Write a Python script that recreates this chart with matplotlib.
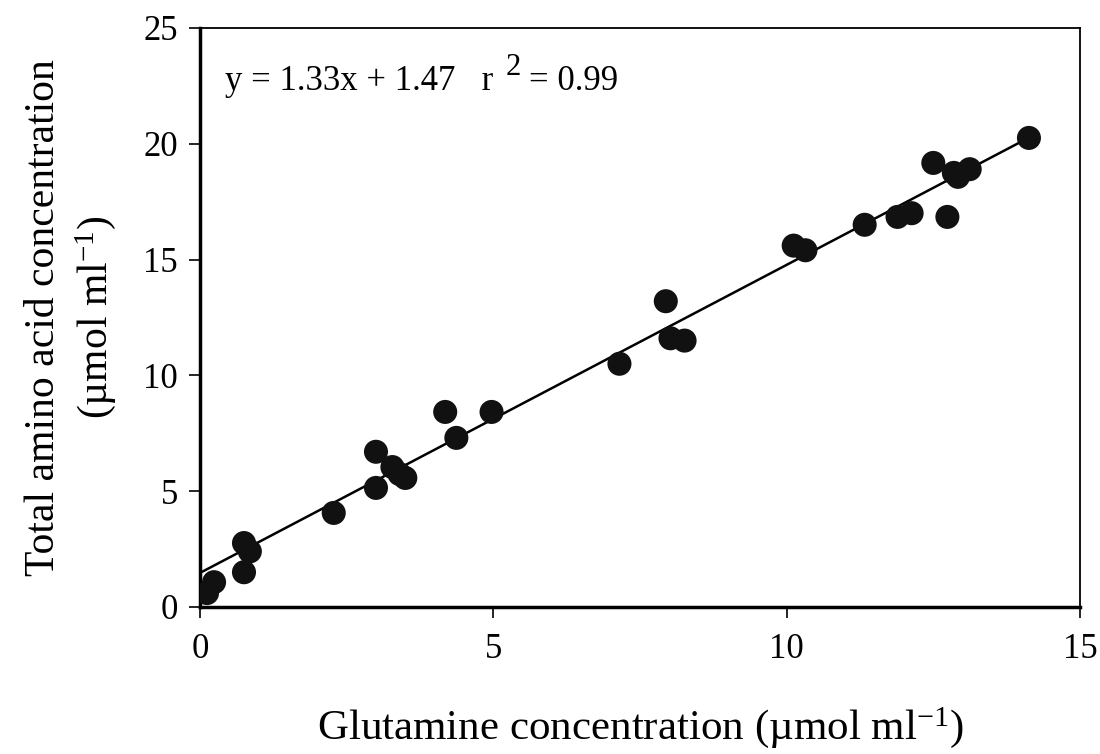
import numpy as np
import matplotlib.pyplot as plt

# glutamine vs total amino acid concentration (umol/ml)
glutamine = [0.12, 0.24, 0.75, 0.85, 0.75, 2.28, 3.0, 3.0, 3.28, 3.4, 3.5,
             4.18, 4.37, 4.97, 7.15, 7.94, 8.02, 8.26, 10.12, 10.32, 11.33,
             11.89, 12.13, 12.5, 12.74, 12.85, 12.92, 13.12, 14.13]
total_aa = [0.6, 1.07, 2.76, 2.4, 1.5, 4.06, 6.7, 5.14, 6.04, 5.74, 5.57,
            8.42, 7.3, 8.42, 10.5, 13.2, 11.6, 11.5, 15.6, 15.4, 16.5,
            16.84, 17.0, 19.17, 16.84, 18.74, 18.57, 18.9, 20.25]
slope = 1.33
intercept = 1.47
r2 = 0.99
fit_range = [0.05, 14.15]


def main():
	plt.rcParams['font.family'] = ['Liberation Serif', 'DejaVu Serif']
	plt.rcParams['mathtext.fontset'] = 'custom'
	plt.rcParams['mathtext.rm'] = 'Liberation Serif'
	plt.rcParams['mathtext.it'] = 'Liberation Serif:italic'
	plt.rcParams['mathtext.bf'] = 'Liberation Serif:bold'
	plt.rcParams['mathtext.default'] = 'rm'

	fig = plt.figure(figsize=(11, 7.54), dpi=100)
	ax = fig.add_axes([0.1818, 0.195, 0.8, 0.768])

	xf = np.array(fit_range)
	ax.plot(xf, slope*xf+intercept, color='black', lw=1.8, zorder=2)
	ax.scatter(glutamine, total_aa, s=300, color='#111111', edgecolors='none', zorder=3)

	ax.set_xlim(0, 15)
	ax.set_ylim(0, 25)
	ax.set_xticks([0, 5, 10, 15])
	ax.set_yticks([0, 5, 10, 15, 20, 25])
	ax.tick_params(direction='out', length=8, width=1.2, labelsize=25)
	ax.tick_params(axis='x', pad=11)
	ax.tick_params(axis='y', pad=8)
	for side in ['left', 'bottom']:
		ax.spines[side].set_linewidth(2.5)
	for side in ['top', 'right']:
		ax.spines[side].set_linewidth(1.3)

	# fit equation; superscript drawn a bit larger than mathtext's default
	eq = ax.text(0.42, 22.3, 'y = %.2fx + %.2f   r' % (slope, intercept), fontsize=25)
	fig.canvas.draw()
	bb = eq.get_window_extent().transformed(ax.transData.inverted())
	sup = ax.text(bb.x1 + 0.22, 22.95, '2', fontsize=22)
	fig.canvas.draw()
	bb = sup.get_window_extent().transformed(ax.transData.inverted())
	ax.text(bb.x1 + 0.14, 22.3, '= %.2f' % r2, fontsize=25)

	ax.set_xlabel('Glutamine concentration (\u00b5mol ml$^{-1}$)', fontsize=31, labelpad=28)
	ax.set_ylabel('Total amino acid concentration\n(\u00b5mol ml$^{-1}$)', fontsize=30,
	              labelpad=18, linespacing=1.3)

	fig.savefig('out.png', dpi=100)


if __name__ == '__main__':
	main()
